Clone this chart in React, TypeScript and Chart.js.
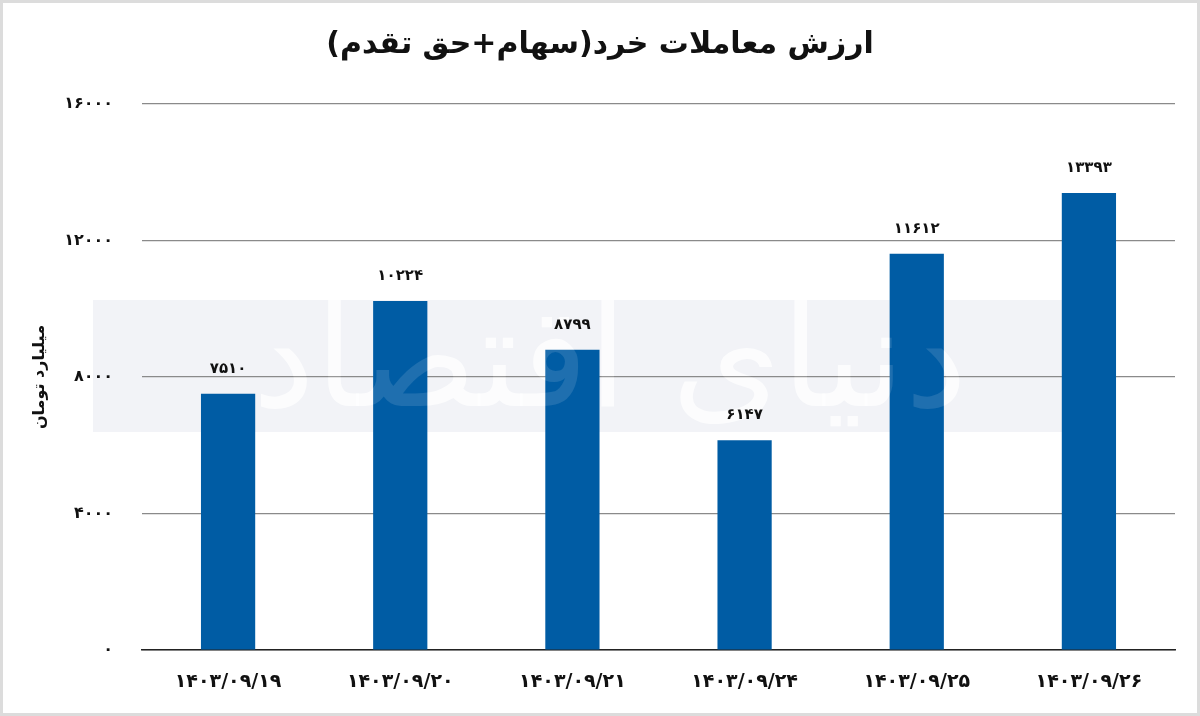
import React, { useEffect, useRef } from "react";
import { Chart, registerables } from "chart.js";

Chart.register(...registerables);

const categories = [
  "۱۴۰۳/۰۹/۱۹",
  "۱۴۰۳/۰۹/۲۰",
  "۱۴۰۳/۰۹/۲۱",
  "۱۴۰۳/۰۹/۲۴",
  "۱۴۰۳/۰۹/۲۵",
  "۱۴۰۳/۰۹/۲۶",
];
const values = [7510, 10224, 8799, 6147, 11612, 13393];
const yTicks = [0, 4000, 8000, 12000, 16000];
const titleText = "ارزش معاملات خرد(سهام+حق تقدم)";
const yTitle = "میلیارد تومان";
const watermark = "دنیای اقتصاد";

const FONT = "'DejaVu Sans', sans-serif";
const toFa = (n: number | string) =>
  String(n).replace(/[0-9]/g, (d) => "۰۱۲۳۴۵۶۷۸۹"[Number(d)]);

export default function App() {
  const ref = useRef<HTMLCanvasElement | null>(null);
  useEffect(() => {
    document.body.style.margin = "0";
    const decor = {
      id: "decor",
      beforeDraw(chart: any) {
        const { ctx, width, height } = chart;
        ctx.save();
        ctx.fillStyle = "#ffffff";
        ctx.fillRect(0, 0, width, height);
        // watermark band
        ctx.fillStyle = "#f2f3f7";
        ctx.fillRect(93, 300, 972, 132);
        ctx.fillStyle = "rgba(255,255,255,0.75)";
        ctx.font = `140px ${FONT}`;
        ctx.textAlign = "center";
        ctx.textBaseline = "middle";
        ctx.fillText(watermark, 610, 370);
        ctx.restore();
      },
      afterDatasetsDraw(chart: any) {
        const { ctx } = chart;
        ctx.save();
        ctx.fillStyle = "rgba(255,255,255,0.12)";
        ctx.font = `140px ${FONT}`;
        ctx.textAlign = "center";
        ctx.textBaseline = "middle";
        ctx.fillText(watermark, 610, 370);
        // data labels
        const meta = chart.getDatasetMeta(0);
        ctx.fillStyle = "#111111";
        ctx.font = `bold 15px ${FONT}`;
        meta.data.forEach((bar: any, i: number) => {
          ctx.fillText(toFa(values[i]), bar.x, bar.y - 25);
        });
        ctx.restore();
      },
      afterDraw(chart: any) {
        const { ctx, width, height } = chart;
        ctx.save();
        ctx.fillStyle = "#111111";
        ctx.textAlign = "center";
        ctx.textBaseline = "middle";
        ctx.font = `bold 30px ${FONT}`;
        ctx.fillText(titleText, 600, 45);
        ctx.translate(40, 377);
        ctx.rotate(-Math.PI / 2);
        ctx.font = `bold 16px ${FONT}`;
        ctx.fillText(yTitle, 0, 0);
        ctx.restore();
        ctx.save();
        ctx.strokeStyle = "#dcdcdc";
        ctx.lineWidth = 3;
        ctx.strokeRect(1.5, 1.5, width - 3, height - 3);
        ctx.restore();
      },
    };

    const chart = new Chart(ref.current as HTMLCanvasElement, {
      type: "bar",
      data: {
        labels: categories,
        datasets: [
          {
            data: values,
            backgroundColor: "#005ca4",
            borderWidth: 0,
            barPercentage: 0.315,
            categoryPercentage: 1,
          },
        ],
      },
      options: {
        responsive: false,
        animation: false,
        devicePixelRatio: 1,
        layout: { padding: { top: 104, right: 25, bottom: 0, left: 0 } },
        plugins: {
          legend: { display: false },
          title: { display: false },
          tooltip: { enabled: false },
        },
        scales: {
          x: {
            grid: { display: false, drawTicks: false },
            border: { display: true, color: "#222222", width: 1.5 },
            ticks: {
              color: "#111111",
              font: { family: FONT, size: 19, weight: "bold" },
              padding: 21,
              maxRotation: 0,
            },
            afterFit(scale: any) {
              scale.height = 66;
            },
          },
          y: {
            min: 0,
            max: 16000,
            afterBuildTicks(scale: any) {
              scale.ticks = yTicks.map((v) => ({ value: v }));
            },
            grid: {
              color: "#8a8a8a",
              lineWidth: 1.2,
              drawTicks: false,
            },
            border: { display: false },
            ticks: {
              color: "#111111",
              font: { family: FONT, size: 16, weight: "bold" },
              padding: 29,
              callback: (v: any) => toFa(v),
            },
            afterFit(scale: any) {
              scale.width = 142;
            },
          },
        },
      },
      plugins: [decor],
    } as any);
    return () => chart.destroy();
  }, []);
  return (
    <div style={{ width: 1200, height: 716 }}>
      <canvas ref={ref} width={1200} height={716} style={{ display: "block" }} />
    </div>
  );
}
